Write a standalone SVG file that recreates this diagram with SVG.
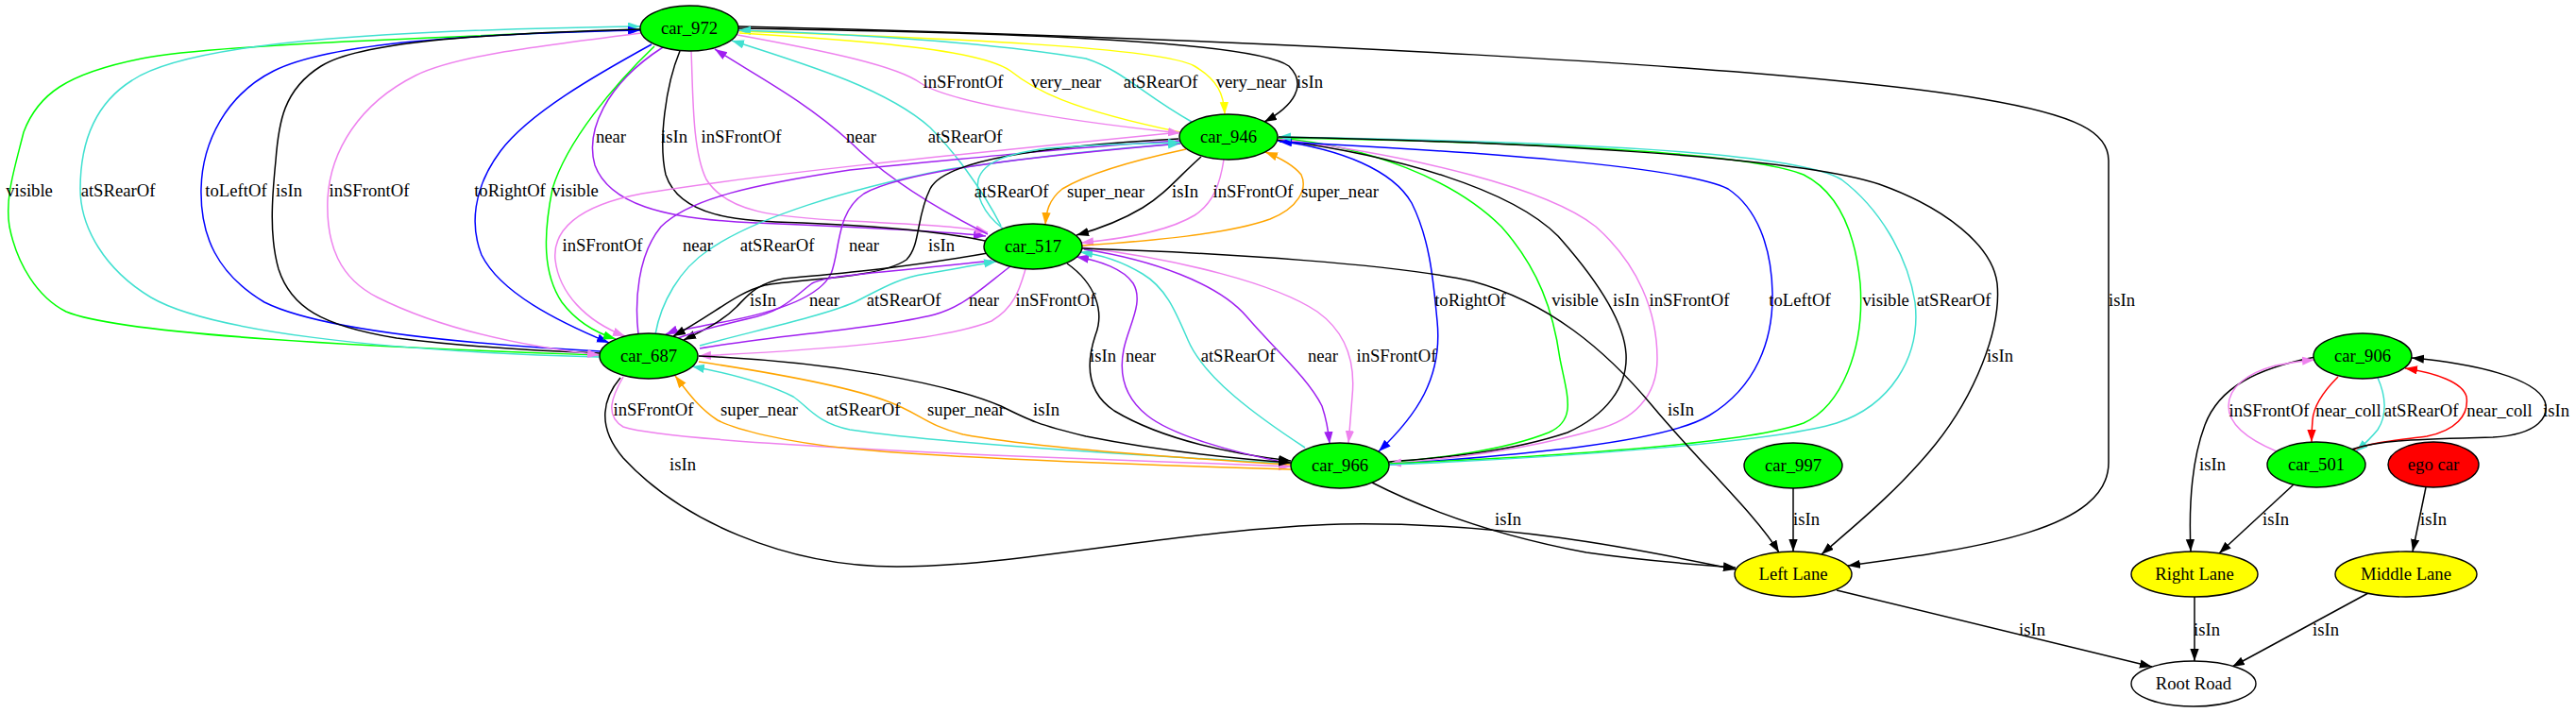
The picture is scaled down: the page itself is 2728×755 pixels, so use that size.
<svg xmlns="http://www.w3.org/2000/svg" width="2728" height="755" viewBox="0 0 2728 755">
<style>
.e{fill:none;stroke-width:1.5}
.k{stroke:#000}.p{stroke:#a020f0}.v{stroke:#ee82ee}.t{stroke:#40e0d0}.g{stroke:#00ff00}.b{stroke:#0000ff}.y{stroke:#ffff00}.o{stroke:#ffa500}.r{stroke:#ff0000}
text{font-family:"Liberation Serif","Times New Roman",serif;font-size:18.67px;fill:#000}
.lb{text-anchor:middle}
.n{stroke:#000;stroke-width:1.4}
.nt{text-anchor:middle}
</style>
<defs>
<marker id="mk" markerUnits="userSpaceOnUse" markerWidth="14" markerHeight="10" refX="13" refY="4.65" orient="auto"><path d="M0,0L13,4.65L0,9.3z" fill="#000"/></marker>
<marker id="mp" markerUnits="userSpaceOnUse" markerWidth="14" markerHeight="10" refX="13" refY="4.65" orient="auto"><path d="M0,0L13,4.65L0,9.3z" fill="#a020f0"/></marker>
<marker id="mv" markerUnits="userSpaceOnUse" markerWidth="14" markerHeight="10" refX="13" refY="4.65" orient="auto"><path d="M0,0L13,4.65L0,9.3z" fill="#ee82ee"/></marker>
<marker id="mt" markerUnits="userSpaceOnUse" markerWidth="14" markerHeight="10" refX="13" refY="4.65" orient="auto"><path d="M0,0L13,4.65L0,9.3z" fill="#40e0d0"/></marker>
<marker id="mg" markerUnits="userSpaceOnUse" markerWidth="14" markerHeight="10" refX="13" refY="4.65" orient="auto"><path d="M0,0L13,4.65L0,9.3z" fill="#00ff00"/></marker>
<marker id="mb" markerUnits="userSpaceOnUse" markerWidth="14" markerHeight="10" refX="13" refY="4.65" orient="auto"><path d="M0,0L13,4.65L0,9.3z" fill="#0000ff"/></marker>
<marker id="my" markerUnits="userSpaceOnUse" markerWidth="14" markerHeight="10" refX="13" refY="4.65" orient="auto"><path d="M0,0L13,4.65L0,9.3z" fill="#ffff00"/></marker>
<marker id="mo" markerUnits="userSpaceOnUse" markerWidth="14" markerHeight="10" refX="13" refY="4.65" orient="auto"><path d="M0,0L13,4.65L0,9.3z" fill="#ffa500"/></marker>
<marker id="mr" markerUnits="userSpaceOnUse" markerWidth="14" markerHeight="10" refX="13" refY="4.65" orient="auto"><path d="M0,0L13,4.65L0,9.3z" fill="#ff0000"/></marker>
</defs>
<rect width="2728" height="755" fill="#fff"/>
<g id="connectors">
<path class="e k" marker-end="url(#mk)" d="M782,28 C1300,40 1900,70 2100,105 C2200,122 2233,140 2233,170 L2233,490 C2233,560 2100,580 1957,599"/>
<path class="e k" marker-end="url(#mk)" d="M782,30 C1100,35 1330,45 1365,70 C1385,90 1370,112 1339,129"/>
<path class="e y" marker-end="url(#my)" d="M783,33 C1000,40 1230,50 1265,70 C1290,85 1296,100 1297,121"/>
<path class="e t" marker-end="url(#mt)" d="M1262,129 C1210,100 1190,75 1150,62 C1050,45 900,36 782,32"/>
<path class="e y" d="M783,35 C950,45 1040,55 1070,75 C1095,95 1130,115 1250,140"/>
<path class="e v" marker-end="url(#mv)" d="M781,37 C880,55 950,70 975,88 C1000,105 1100,125 1250,141"/>
<path class="e p" marker-end="url(#mp)" d="M702,50 C640,90 620,140 630,175 C645,215 700,232 800,236 C900,240 1000,245 1044,250"/>
<path class="e k" d="M720,54 C705,90 697,150 705,185 C720,230 780,234 850,236 C950,240 1010,248 1043,255"/>
<path class="e v" marker-end="url(#mv)" d="M732,54 C734,100 733,160 748,190 C770,225 820,230 900,234 C980,238 1020,240 1046,246"/>
<path class="e p" marker-end="url(#mp)" d="M1046,248 C980,215 930,180 900,150 C850,105 800,80 757,52"/>
<path class="e t" marker-end="url(#mt)" d="M1060,239 C1040,200 1010,160 985,135 C940,95 860,70 775,43"/>
<path class="e g" d="M679,31 C450,40 220,48 150,62 C70,78 40,100 25,140 C15,180 5,210 10,240 C18,280 40,315 70,330 C130,355 400,368 635,376"/>
<path class="e t" marker-end="url(#mt)" d="M635,378 C400,372 220,350 160,315 C110,285 85,240 85,200 C85,150 100,110 140,85 C200,45 400,32 678,28"/>
<path class="e b" marker-end="url(#mb)" d="M636,372 C450,362 330,345 280,320 C230,290 212,250 213,200 C214,150 240,100 290,75 C350,45 500,36 678,32"/>
<path class="e k" d="M678,31 C500,36 380,45 340,70 C300,95 295,130 292,170 C288,210 285,250 295,285 C308,325 340,345 420,358 C500,368 580,372 636,374"/>
<path class="e v" marker-end="url(#mv)" d="M679,35 C560,50 480,60 440,80 C380,110 350,160 347,210 C345,260 360,295 400,315 C460,345 540,365 635,376"/>
<path class="e b" marker-end="url(#mb)" d="M690,47 C630,80 560,120 530,160 C500,200 498,240 510,270 C530,310 590,340 645,363"/>
<path class="e g" marker-end="url(#mg)" d="M693,49 C650,90 600,150 585,200 C575,250 575,290 595,320 C610,340 630,352 652,359"/>
<path class="e v" marker-end="url(#mv)" d="M1250,140 C1000,165 800,185 680,205 C610,218 585,245 588,275 C592,310 620,340 662,356"/>
<path class="e p" d="M676,354 C672,320 675,270 700,240 C730,210 800,195 900,180 C1050,165 1150,155 1250,149"/>
<path class="e t" marker-end="url(#mt)" d="M694,354 C700,320 720,285 750,265 C800,230 900,200 1000,180 C1100,165 1180,157 1250,152"/>
<path class="e p" marker-end="url(#mp)" d="M1250,152 C1100,165 960,180 915,205 C885,225 890,265 880,290 C865,320 800,335 760,342 C735,347 715,350 705,354"/>
<path class="e k" marker-end="url(#mk)" d="M1248,147 C1100,155 1000,170 985,200 C970,230 975,260 960,275 C930,295 850,295 810,302 C780,310 760,330 713,356"/>
<path class="e k" marker-end="url(#mk)" d="M1046,268 C950,285 880,290 830,295 C800,300 790,315 780,325 C765,340 745,350 724,360"/>
<path class="e p" d="M1050,276 C950,288 880,290 860,300 C840,315 830,330 790,338 C760,345 740,350 718,358"/>
<path class="e t" marker-end="url(#mt)" d="M741,366 C800,350 870,335 905,320 C935,305 950,295 980,290 C1010,285 1035,280 1055,277"/>
<path class="e p" d="M1070,282 C1040,305 1020,325 990,333 C930,348 820,355 741,369"/>
<path class="e v" marker-end="url(#mv)" d="M1086,285 C1080,305 1075,325 1050,340 C1000,360 880,370 740,377"/>
<path class="e t" marker-end="url(#mt)" d="M1062,242 C1040,225 1033,205 1036,190 C1042,170 1070,162 1110,157 C1160,153 1200,152 1250,151"/>
<path class="e o" marker-end="url(#mo)" d="M1256,158 C1200,170 1150,185 1125,200 C1110,212 1108,225 1107,238"/>
<path class="e k" marker-end="url(#mk)" d="M1272,166 C1250,185 1235,205 1210,220 C1190,232 1165,242 1140,249"/>
<path class="e v" marker-end="url(#mv)" d="M1296,169 C1292,195 1285,215 1265,228 C1240,243 1200,252 1145,257"/>
<path class="e o" marker-end="url(#mo)" d="M1146,260 C1220,255 1300,248 1345,232 C1375,220 1385,200 1378,185 C1370,175 1355,167 1340,161"/>
<path class="e b" marker-end="url(#mb)" d="M1353,149 C1420,158 1475,180 1495,215 C1515,255 1518,300 1522,340 C1528,400 1500,440 1460,478"/>
<path class="e g" d="M1353,146 C1450,155 1540,190 1590,240 C1630,285 1645,330 1652,380 C1660,420 1670,445 1640,458 C1590,478 1520,485 1471,490"/>
<path class="e k" d="M1353,148 C1480,165 1600,200 1650,250 C1690,295 1720,340 1722,375 C1724,410 1700,440 1660,458 C1600,478 1530,485 1471,489"/>
<path class="e v" marker-end="url(#mv)" d="M1353,147 C1500,165 1640,200 1690,240 C1735,280 1755,330 1755,380 C1755,420 1730,445 1690,455 C1620,475 1550,485 1471,491"/>
<path class="e b" marker-end="url(#mb)" d="M1471,492 C1600,482 1760,470 1810,440 C1860,410 1878,360 1877,310 C1876,260 1860,220 1830,200 C1780,175 1550,160 1355,150"/>
<path class="e g" d="M1353,146 C1600,150 1850,160 1910,185 C1950,205 1965,250 1970,300 C1975,370 1950,430 1910,448 C1850,470 1650,483 1471,491"/>
<path class="e t" marker-end="url(#mt)" d="M1471,492 C1650,485 1880,468 1945,448 C2000,430 2035,380 2028,320 C2020,270 1990,220 1950,190 C1900,160 1650,150 1354,145"/>
<path class="e k" marker-end="url(#mk)" d="M1354,145 C1600,150 1900,165 1990,195 C2060,220 2110,260 2115,300 C2120,350 2090,420 2050,470 C2010,520 1960,560 1929,587"/>
<path class="e k" marker-end="url(#mk)" d="M1130,279 C1160,300 1170,330 1160,355 C1150,385 1150,415 1180,435 C1230,465 1300,480 1367,488"/>
<path class="e p" marker-end="url(#mp)" d="M1367,491 C1300,478 1240,460 1215,440 C1190,420 1185,395 1190,370 C1195,345 1212,320 1200,300 C1190,285 1165,276 1140,272"/>
<path class="e t" marker-end="url(#mt)" d="M1382,474 C1330,440 1275,400 1258,360 C1245,330 1235,305 1210,290 C1190,278 1170,270 1144,267"/>
<path class="e p" marker-end="url(#mp)" d="M1148,264 C1220,275 1290,300 1320,335 C1350,370 1385,400 1400,430 C1405,445 1407,458 1408,470"/>
<path class="e v" marker-end="url(#mv)" d="M1147,262 C1250,275 1350,300 1395,330 C1430,355 1435,390 1432,420 C1430,445 1429,460 1428,469"/>
<path class="e v" marker-end="url(#mv)" d="M660,399 C648,420 640,440 660,452 C700,465 900,475 1050,482 C1200,488 1300,492 1367,494"/>
<path class="e o" marker-end="url(#mo)" d="M1367,497 C1200,492 1000,485 900,475 C830,468 780,455 760,445 C740,432 728,415 715,398"/>
<path class="e t" marker-end="url(#mt)" d="M1367,491 C1200,482 1000,470 900,455 C865,448 855,430 840,420 C810,405 770,395 733,388"/>
<path class="e o" d="M740,383 C820,395 900,410 940,425 C975,438 980,450 1020,460 C1100,475 1250,485 1367,492"/>
<path class="e k" marker-end="url(#mk)" d="M740,377 C880,383 1000,405 1060,430 C1090,445 1100,450 1150,462 C1230,478 1300,485 1367,490"/>
<path class="e k" marker-end="url(#mk)" d="M657,400 C640,420 630,450 660,485 C720,550 830,600 950,600 C1080,600 1250,560 1420,555 C1600,552 1750,585 1838,603"/>
<path class="e k" marker-end="url(#mk)" d="M1453,511 C1520,545 1600,570 1680,585 C1750,595 1800,598 1838,601"/>
<path class="e k" marker-end="url(#mk)" d="M1146,263 C1300,268 1480,280 1560,298 C1640,320 1700,370 1750,430 C1800,490 1860,545 1884,585"/>
<path class="e k" marker-end="url(#mk)" d="M1899,517 L1899,584"/>
<path class="e k" marker-end="url(#mk)" d="M1945,625 L2279,706"/>
<path class="e k" marker-end="url(#mk)" d="M2324,632 L2324,700"/>
<path class="e k" marker-end="url(#mk)" d="M2508,628 L2364,706"/>
<path class="e k" marker-end="url(#mk)" d="M2429,513 L2350,586"/>
<path class="e k" marker-end="url(#mk)" d="M2569,516 L2555,584"/>
<path class="e k" marker-end="url(#mk)" d="M2452,378 C2390,390 2350,410 2335,450 C2320,490 2318,540 2320,584"/>
<path class="e v" marker-end="url(#mv)" d="M2411,478 C2380,465 2360,450 2360,430 C2360,410 2380,395 2410,387 C2425,384 2440,382 2451,381"/>
<path class="e r" marker-end="url(#mr)" d="M2476,399 C2460,415 2450,430 2449,445 C2448,455 2448,462 2448,468"/>
<path class="e t" marker-end="url(#mt)" d="M2518,400 C2527,420 2528,440 2518,455 C2510,465 2502,472 2495,478"/>
<path class="e r" marker-end="url(#mr)" d="M2490,477 C2510,468 2540,466 2570,462 C2600,456 2615,440 2612,420 C2608,405 2580,395 2547,390"/>
<path class="e k" marker-end="url(#mk)" d="M2490,476 C2520,466 2560,465 2640,463 C2690,460 2700,440 2695,425 C2685,400 2620,385 2554,379"/>
<g id="edge-labels">
<text class="lb" x="2247" y="324">isIn</text>
<text class="lb" x="1387" y="93">isIn</text>
<text class="lb" x="1325" y="93">very_near</text>
<text class="lb" x="1229" y="93">atSRearOf</text>
<text class="lb" x="1129" y="93">very_near</text>
<text class="lb" x="1020" y="93">inSFrontOf</text>
<text class="lb" x="647" y="151">near</text>
<text class="lb" x="714" y="151">isIn</text>
<text class="lb" x="785" y="151">inSFrontOf</text>
<text class="lb" x="912" y="151">near</text>
<text class="lb" x="1022" y="151">atSRearOf</text>
<text class="lb" x="31" y="208">visible</text>
<text class="lb" x="125" y="208">atSRearOf</text>
<text class="lb" x="250" y="208">toLeftOf</text>
<text class="lb" x="306" y="208">isIn</text>
<text class="lb" x="391" y="208">inSFrontOf</text>
<text class="lb" x="540" y="208">toRightOf</text>
<text class="lb" x="609" y="208">visible</text>
<text class="lb" x="638" y="266">inSFrontOf</text>
<text class="lb" x="739" y="266">near</text>
<text class="lb" x="823" y="266">atSRearOf</text>
<text class="lb" x="915" y="266">near</text>
<text class="lb" x="997" y="266">isIn</text>
<text class="lb" x="808" y="324">isIn</text>
<text class="lb" x="873" y="324">near</text>
<text class="lb" x="957" y="324">atSRearOf</text>
<text class="lb" x="1042" y="324">near</text>
<text class="lb" x="1118" y="324">inSFrontOf</text>
<text class="lb" x="1071" y="209">atSRearOf</text>
<text class="lb" x="1171" y="209">super_near</text>
<text class="lb" x="1255" y="209">isIn</text>
<text class="lb" x="1327" y="209">inSFrontOf</text>
<text class="lb" x="1419" y="209">super_near</text>
<text class="lb" x="1557" y="324">toRightOf</text>
<text class="lb" x="1668" y="324">visible</text>
<text class="lb" x="1722" y="324">isIn</text>
<text class="lb" x="1789" y="324">inSFrontOf</text>
<text class="lb" x="1906" y="324">toLeftOf</text>
<text class="lb" x="1997" y="324">visible</text>
<text class="lb" x="2069" y="324">atSRearOf</text>
<text class="lb" x="2118" y="383">isIn</text>
<text class="lb" x="1168" y="383">isIn</text>
<text class="lb" x="1208" y="383">near</text>
<text class="lb" x="1311" y="383">atSRearOf</text>
<text class="lb" x="1401" y="383">near</text>
<text class="lb" x="1479" y="383">inSFrontOf</text>
<text class="lb" x="692" y="440">inSFrontOf</text>
<text class="lb" x="804" y="440">super_near</text>
<text class="lb" x="914" y="440">atSRearOf</text>
<text class="lb" x="1023" y="440">super_near</text>
<text class="lb" x="1108" y="440">isIn</text>
<text class="lb" x="1780" y="440">isIn</text>
<text class="lb" x="723" y="498">isIn</text>
<text class="lb" x="1597" y="556">isIn</text>
<text class="lb" x="1913" y="556">isIn</text>
<text class="lb" x="2410" y="556">isIn</text>
<text class="lb" x="2577" y="556">isIn</text>
<text class="lb" x="2343" y="498">isIn</text>
<text class="lb" x="2152" y="673">isIn</text>
<text class="lb" x="2337" y="673">isIn</text>
<text class="lb" x="2463" y="673">isIn</text>
<text class="lb" x="2403" y="441">inSFrontOf</text>
<text class="lb" x="2487" y="441">near_coll</text>
<text class="lb" x="2564" y="441">atSRearOf</text>
<text class="lb" x="2647" y="441">near_coll</text>
<text class="lb" x="2707" y="441">isIn</text>
</g>
</g>
<g id="car_972"><ellipse class="n" cx="730" cy="30" rx="52" ry="24" fill="#00ff00"/><text class="nt" x="730" y="36">car_972</text></g>
<g id="car_946"><ellipse class="n" cx="1301" cy="145" rx="52" ry="24" fill="#00ff00"/><text class="nt" x="1301" y="151">car_946</text></g>
<g id="car_517"><ellipse class="n" cx="1094" cy="261" rx="52" ry="24" fill="#00ff00"/><text class="nt" x="1094" y="267">car_517</text></g>
<g id="car_687"><ellipse class="n" cx="687" cy="377" rx="52" ry="24" fill="#00ff00"/><text class="nt" x="687" y="383">car_687</text></g>
<g id="car_966"><ellipse class="n" cx="1419" cy="493" rx="52" ry="24" fill="#00ff00"/><text class="nt" x="1419" y="499">car_966</text></g>
<g id="car_997"><ellipse class="n" cx="1899" cy="493" rx="52" ry="24" fill="#00ff00"/><text class="nt" x="1899" y="499">car_997</text></g>
<g id="car_906"><ellipse class="n" cx="2502" cy="377" rx="52" ry="24" fill="#00ff00"/><text class="nt" x="2502" y="383">car_906</text></g>
<g id="car_501"><ellipse class="n" cx="2453" cy="492" rx="52" ry="24" fill="#00ff00"/><text class="nt" x="2453" y="498">car_501</text></g>
<g id="ego_car"><ellipse class="n" cx="2577" cy="492" rx="48" ry="24" fill="#ff0000"/><text class="nt" x="2577" y="498">ego car</text></g>
<g id="left_lane"><ellipse class="n" cx="1899" cy="608" rx="62" ry="24" fill="#ffff00"/><text class="nt" x="1899" y="614">Left Lane</text></g>
<g id="right_lane"><ellipse class="n" cx="2324" cy="608" rx="67" ry="24" fill="#ffff00"/><text class="nt" x="2324" y="614">Right Lane</text></g>
<g id="middle_lane"><ellipse class="n" cx="2548" cy="608" rx="75" ry="24" fill="#ffff00"/><text class="nt" x="2548" y="614">Middle Lane</text></g>
<g id="root_road"><ellipse class="n" cx="2323" cy="724" rx="66" ry="24" fill="#fff"/><text class="nt" x="2323" y="730">Root Road</text></g>
</svg>
